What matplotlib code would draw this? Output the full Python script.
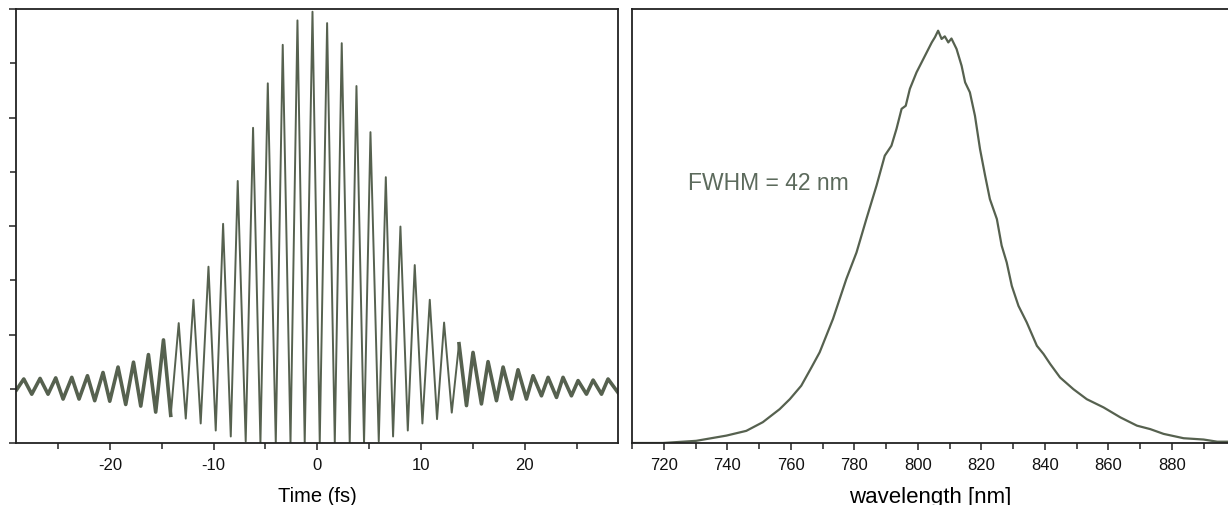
import matplotlib.pyplot as plt
from matplotlib.ticker import MultipleLocator, NullFormatter

# ---- autocorrelation trace: fringe peaks and troughs ----
peak_t = [-28.30, -26.73, -25.22, -23.67, -22.16, -20.66, -19.21, -17.72, -16.28, -14.83,
          -13.36, -11.94, -10.49, -9.08, -7.67, -6.19, -4.77, -3.33, -1.91, -0.46,
          0.95, 2.36, 3.78, 5.13, 6.61, 8.02, 9.40, 10.85, 12.23, 13.67,
          15.02, 16.47, 17.92, 19.36, 20.81, 22.26, 23.70, 25.15, 26.60, 28.04]
peak_v = [1.18, 1.19, 1.20, 1.21, 1.24, 1.30, 1.40, 1.49, 1.63, 1.90,
          2.21, 2.64, 3.25, 4.04, 4.83, 5.81, 6.63, 7.34, 7.79, 7.95,
          7.74, 7.37, 6.58, 5.73, 4.90, 3.99, 3.28, 2.64, 2.22, 1.83,
          1.67, 1.50, 1.40, 1.35, 1.24, 1.21, 1.21, 1.15, 1.16, 1.18]
trough_t = [-27.53, -25.96, -24.51, -22.97, -21.46, -20.01, -18.47, -17.02, -15.58, -14.13,
            -12.68, -11.24, -9.79, -8.34, -6.90, -5.48, -4.00, -2.58, -1.21,
            0.24, 1.69, 3.13, 4.51, 5.93, 7.31, 8.73, 10.14, 11.55, 12.97,
            14.39, 15.83, 17.28, 18.73, 20.17, 21.62, 23.07, 24.51, 25.96, 27.41]
trough_v = [0.90, 0.90, 0.81, 0.81, 0.78, 0.77, 0.71, 0.68, 0.57, 0.51,
            0.45, 0.36, 0.23, 0.12, 0.03, 0.0, 0.0, 0.0, 0.0,
            0.0, 0.0, 0.0, 0.0, 0.03, 0.12, 0.23, 0.36, 0.44, 0.56,
            0.69, 0.72, 0.78, 0.81, 0.81, 0.87, 0.84, 0.87, 0.90, 0.90]
start_point = (-29.0, 0.98)
end_point = (29.0, 0.93)

# ---- spectrum ----
wavelength = [710, 719.7, 730.2, 739.7, 746.0, 751.2, 756.5, 759.7, 763.3, 766.5,
              769.1, 773.3, 777.5, 780.7, 783.8, 787.0, 789.6, 791.7, 793.3, 794.9,
              796.2, 797.5, 799.6, 801.2, 802.8, 804.4, 805.4, 806.4, 807.5, 808.5,
              809.6, 810.6, 812.2, 813.8, 814.9, 816.4, 818.0, 819.6, 821.2, 822.7,
              824.9, 826.4, 828.0, 829.6, 831.7, 834.3, 837.5, 839.6, 841.7, 844.8,
              849.0, 853.2, 858.5, 863.8, 869.0, 873.2, 877.4, 883.7, 890.0, 894.3, 898.0]
intensity = [0.0, 0.0, 0.005, 0.017, 0.028, 0.048, 0.078, 0.101, 0.132, 0.174,
             0.209, 0.286, 0.378, 0.439, 0.516, 0.593, 0.662, 0.685, 0.724, 0.770,
             0.777, 0.816, 0.854, 0.877, 0.900, 0.923, 0.935, 0.950, 0.931, 0.937,
             0.923, 0.932, 0.908, 0.869, 0.831, 0.808, 0.754, 0.677, 0.616, 0.562,
             0.516, 0.455, 0.416, 0.362, 0.316, 0.278, 0.224, 0.205, 0.182, 0.151,
             0.124, 0.101, 0.082, 0.059, 0.040, 0.032, 0.021, 0.011, 0.008, 0.003, 0.003]

LINE = '#56614f'
plt.rcParams['font.family'] = ['Liberation Sans', 'DejaVu Sans']
plt.rcParams['axes.unicode_minus'] = False

# merge peaks and troughs into one trace, in time order
pts = sorted(list(zip(peak_t, peak_v)) + list(zip(trough_t, trough_v)) + [start_point, end_point])
t = [p[0] for p in pts]
v = [p[1] for p in pts]

fig = plt.figure(figsize=(12.28, 5.06), dpi=100)
ax1 = fig.add_axes([16 / 1228, 62 / 506, 602 / 1228, 434 / 506])
ax2 = fig.add_axes([632 / 1228, 62 / 506, 597 / 1228, 434 / 506])

# left panel
ax1.plot(t, v, color=LINE, lw=1.4)
# the noisy wings look thicker
wl = [(a, b) for a, b in zip(t, v) if a <= -14.0]
wr = [(a, b) for a, b in zip(t, v) if a >= 13.0]
ax1.plot([p[0] for p in wl], [p[1] for p in wl], color=LINE, lw=2.6, solid_joinstyle='round')
ax1.plot([p[0] for p in wr], [p[1] for p in wr], color=LINE, lw=2.6, solid_joinstyle='round')
ax1.set_xlim(-29.05, 29.0)
ax1.set_ylim(0, 8)
ax1.xaxis.set_major_locator(MultipleLocator(10))
ax1.xaxis.set_minor_locator(MultipleLocator(5))
ax1.yaxis.set_major_locator(MultipleLocator(2))
ax1.yaxis.set_minor_locator(MultipleLocator(1))
ax1.yaxis.set_major_formatter(NullFormatter())
ax1.set_xlabel('Time (fs)', fontsize=14.5, labelpad=10)

# right panel
ax2.plot(wavelength, intensity, color=LINE, lw=1.6)
ax2.set_xlim(710, 898)
ax2.set_ylim(0, 1.0)
ax2.xaxis.set_major_locator(MultipleLocator(20))
ax2.xaxis.set_minor_locator(MultipleLocator(10))
ax2.set_yticks([])
ax2.spines['right'].set_visible(False)
ax2.set_xlabel('wavelength [nm]', fontsize=16, labelpad=10)
ax2.text(727.5, 0.6, 'FWHM = 42 nm', fontsize=16.5, color='#5c6a5c', va='center', ha='left')

for ax in (ax1, ax2):
    for s in ax.spines.values():
        s.set_color('#222222')
        s.set_linewidth(1.3)
    ax.tick_params(which='major', direction='out', length=5, width=1.1, color='#222222',
                   labelsize=12, labelcolor='#111111', pad=5)
    ax.tick_params(which='minor', direction='out', length=4, width=1.1, color='#222222')

fig.savefig('out.png', dpi=100)
